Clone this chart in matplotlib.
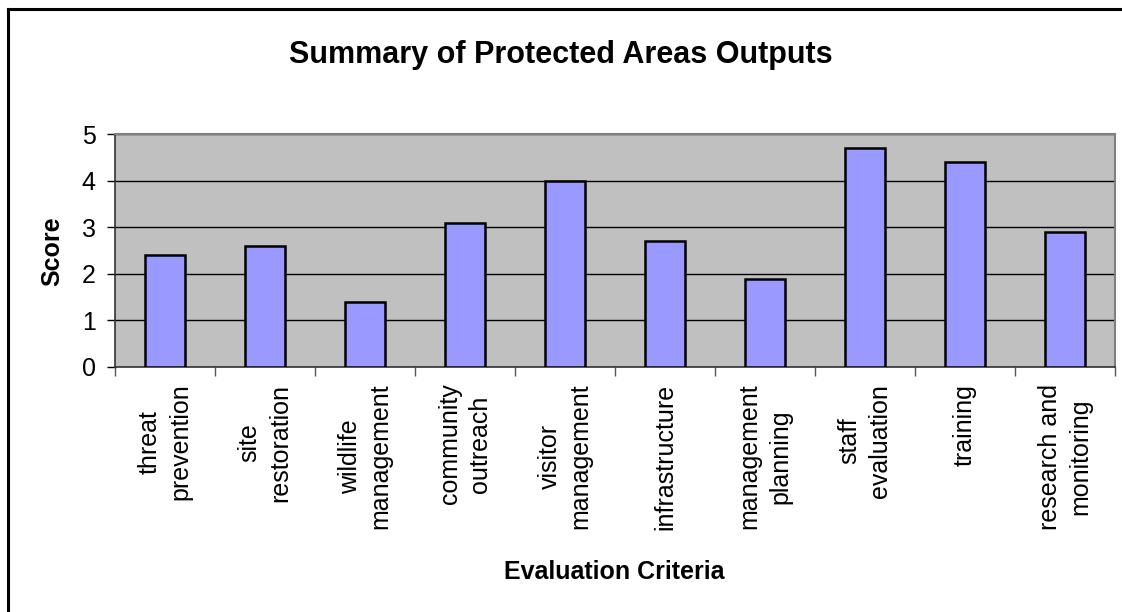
import matplotlib
matplotlib.use("Agg")
import matplotlib.pyplot as plt
from matplotlib.lines import Line2D
import numpy as np

categories = ["threat\nprevention", "site\nrestoration", "wildlife\nmanagement",
              "community\noutreach", "visitor\nmanagement", "infrastructure",
              "management\nplanning", "staff\nevaluation", "training",
              "research and\nmonitoring"]
scores = [2.4, 2.6, 1.4, 3.1, 4.0, 2.7, 1.88, 4.7, 4.4, 2.9]
yticks = [0, 1, 2, 3, 4, 5]

plt.rcParams['font.family'] = ['Liberation Sans', 'DejaVu Sans']

W, H = 1122, 612
fig = plt.figure(figsize=(W / 100, H / 100), dpi=100)
fig.patch.set_facecolor('white')

ax = fig.add_axes([115 / W, 1 - 367 / H, 1000 / W, 233 / H])
ax.set_facecolor('#C0C0C0')

x = np.arange(len(categories))
ax.bar(x, scores, width=0.4, color='#9999FF', edgecolor='black', linewidth=1.8, zorder=3)

ax.set_xlim(-0.5, len(categories) - 0.5)
ax.set_ylim(0, 5)
ax.set_yticks(yticks)
ax.set_yticklabels([str(v) for v in yticks], fontsize=18)
ax.yaxis.grid(True, color='black', linewidth=1.0, zorder=1)
ax.set_axisbelow(True)

ax.set_xticks(x)
ax.set_xticklabels(categories, rotation=90, fontsize=18, ha='center', va='top',
                   multialignment='center', linespacing=1.35)
ax.tick_params(axis='x', which='major', length=0, pad=12)
ax.set_xticks(np.arange(-0.5, len(categories)), minor=True)
ax.tick_params(axis='x', which='minor', length=6.5, width=1.0, color='#555555')
ax.tick_params(axis='y', length=6, width=1.0, pad=8, color='black')

for s in ['top', 'right']:
    ax.spines[s].set_color('#808080')
    ax.spines[s].set_linewidth(1.5)
for s in ['left', 'bottom']:
    ax.spines[s].set_color('#333333')
    ax.spines[s].set_linewidth(1.2)

fig.text(561 / W, 1 - 55 / H, "Summary of Protected Areas Outputs", fontsize=22,
         fontweight='bold', ha='center', va='center')
fig.text(614 / W, 1 - 572 / H, "Evaluation Criteria", fontsize=18,
         fontweight='bold', ha='center', va='center')
fig.text(52 / W, 1 - 251 / H, "Score", fontsize=18, fontweight='bold',
         rotation=90, ha='center', va='center')

# outer chart frame (cut off at right and bottom)
fig.add_artist(Line2D([8 / W, 8 / W], [1 - 9 / H, -0.1], color='black', linewidth=2.2,
                      transform=fig.transFigure))
fig.add_artist(Line2D([8 / W, 1.1], [1 - 9 / H, 1 - 9 / H], color='black', linewidth=2.2,
                      transform=fig.transFigure))

fig.savefig("out.png", dpi=100)
